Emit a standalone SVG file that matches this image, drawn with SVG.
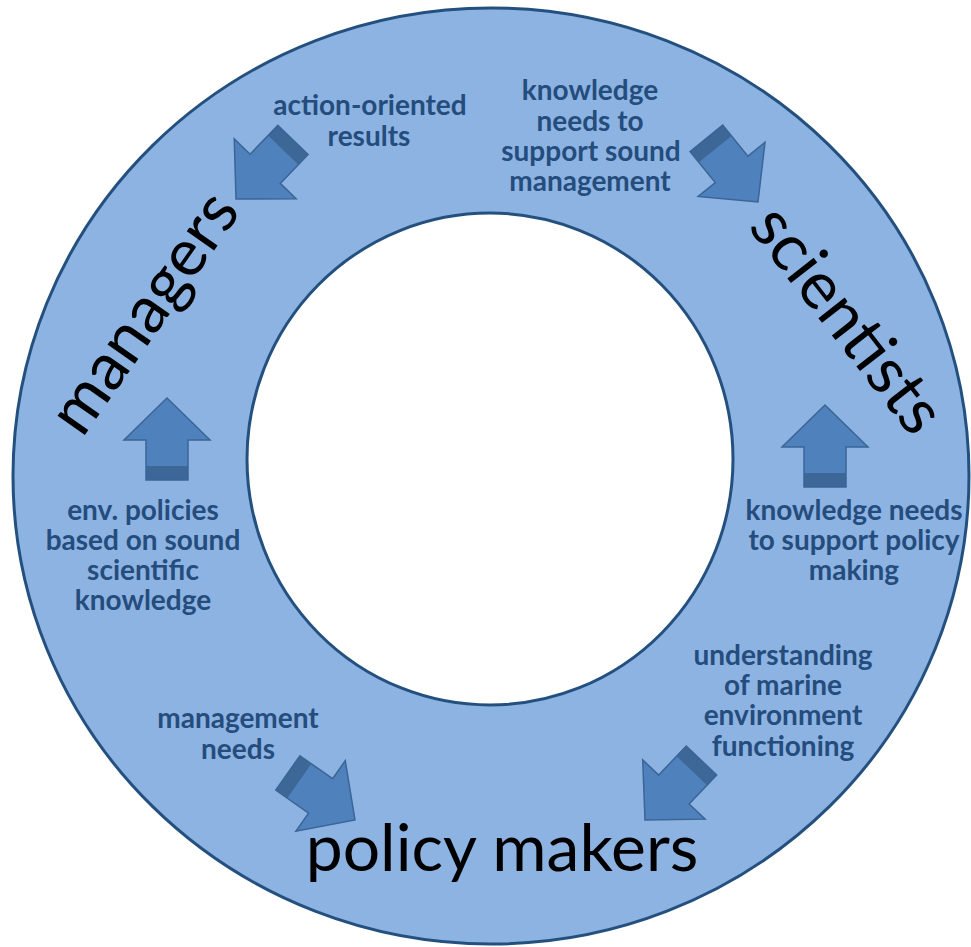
<svg xmlns="http://www.w3.org/2000/svg" xmlns:xlink="http://www.w3.org/1999/xlink" width="971" height="947" viewBox="0 0 971 947">
<style>
.ring{fill:#8DB3E2;stroke:#24507F;stroke-width:3}
.hole{fill:#FFFFFF;stroke:#24507F;stroke-width:3}
.af{fill:#4F81BD}
.ad{fill:#3D6797}
.ao{fill:none;stroke:#3A6596;stroke-width:1.5;stroke-linejoin:miter}
.lbl{font-family:Lato,"Liberation Sans",sans-serif;font-weight:bold;font-size:28px;fill:#244C7C;text-anchor:middle}
.big{font-family:Lato,"Liberation Sans",sans-serif;font-size:66px;fill:#000000;text-anchor:middle}
</style>
<defs>
<g id="arrow">
<polygon class="af" points="0,0 -42,-43 -42,-21 -82,-21 -82,21 -42,21 -42,43"/>
<rect class="ad" x="-82" y="-21" width="14" height="42"/>
<polygon class="ao" points="0,0 -42,-43 -42,-21 -82,-21 -82,21 -42,21 -42,43"/>
</g>
</defs>
<rect width="971" height="947" fill="#FFFFFF"/>
<g id="ring">
<ellipse class="ring" cx="491" cy="476" rx="478" ry="468"/>
<ellipse class="hole" cx="490" cy="459" rx="243" ry="246"/>
</g>
<g id="managers"><text class="big" transform="translate(162,325) rotate(-55)">managers</text></g>
<g id="scientists"><text class="big" transform="translate(830,333) rotate(52)">scientists</text></g>
<g id="policy-makers"><text class="big" x="502" y="871">policy makers</text></g>
<g id="connectors">
<use xlink:href="#arrow" href="#arrow" transform="translate(236,199) rotate(134)"/>
<use xlink:href="#arrow" href="#arrow" transform="translate(758,202) rotate(51)"/>
<use xlink:href="#arrow" href="#arrow" transform="translate(167,398) rotate(-90)"/>
<use xlink:href="#arrow" href="#arrow" transform="translate(825,405) rotate(-90)"/>
<use xlink:href="#arrow" href="#arrow" transform="translate(355,820) rotate(35)"/>
<use xlink:href="#arrow" href="#arrow" transform="translate(645,820) rotate(133.5)"/>
</g>
<g id="labels">
<text class="lbl"><tspan x="370" y="115">action-oriented</tspan><tspan x="369" y="146">results</tspan></text>
<text class="lbl"><tspan x="590" y="100">knowledge</tspan><tspan x="590" y="131">needs to</tspan><tspan x="591" y="161">support sound</tspan><tspan x="590" y="191">management</tspan></text>
<text class="lbl"><tspan x="143" y="520">env. policies</tspan><tspan x="143" y="550">based on sound</tspan><tspan x="143" y="580">scientific</tspan><tspan x="143" y="610">knowledge</tspan></text>
<text class="lbl"><tspan x="854" y="520">knowledge needs</tspan><tspan x="854" y="550">to support policy</tspan><tspan x="854" y="580">making</tspan></text>
<text class="lbl"><tspan x="238" y="728">management</tspan><tspan x="238" y="759">needs</tspan></text>
<text class="lbl"><tspan x="783" y="665">understanding</tspan><tspan x="783" y="695">of marine</tspan><tspan x="783" y="725">environment</tspan><tspan x="783" y="756">functioning</tspan></text>
</g>
</svg>
